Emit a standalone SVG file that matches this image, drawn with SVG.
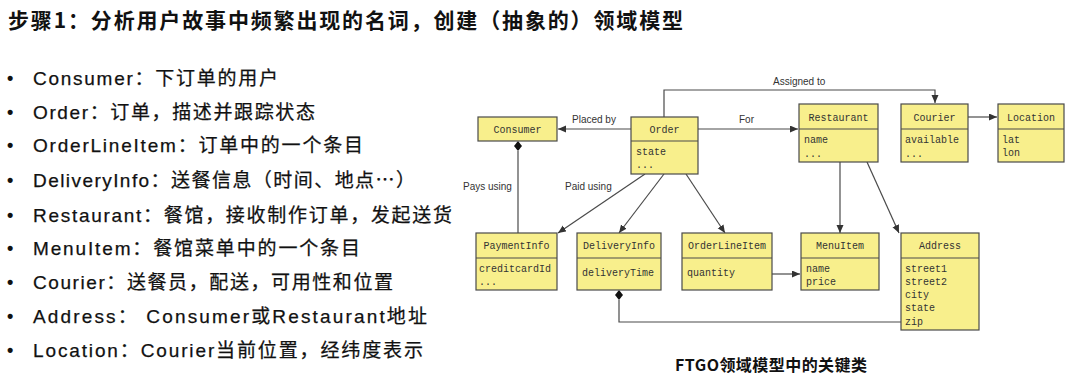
<svg xmlns="http://www.w3.org/2000/svg" width="1070" height="380" viewBox="0 0 1070 380">
<style>
.box{fill:#f8ef8c;stroke:#4a4a4a;stroke-width:1.2}
.div{stroke:#4a4a4a;stroke-width:1.2}
.mono{font-family:"Liberation Mono","DejaVu Sans Mono",monospace;font-size:10px;fill:#333}
.hd{text-anchor:middle}
.lbl{font-family:"Liberation Sans",Arial,sans-serif;font-size:10px;fill:#333}
.ln{fill:none;stroke:#4a4a4a;stroke-width:1.2}
.txt{font-family:"Liberation Sans","Noto Sans CJK SC",sans-serif;font-size:19px;fill:#111;stroke:#111;stroke-width:0.25}
.bul{font-family:"Liberation Sans",sans-serif;font-size:18px;font-weight:bold;fill:#111}
</style>
<defs>
<marker id="arr" markerWidth="9" markerHeight="8" refX="8" refY="3.5" orient="auto" markerUnits="userSpaceOnUse">
<path d="M0,0 L8,3.5 L0,7 z" fill="#333"/>
</marker>
</defs>
<rect width="1070" height="380" fill="#fff"/>

<text x="8" y="28" font-family="'Noto Sans CJK SC',sans-serif" font-weight="bold" font-size="21" fill="#111" textLength="675" lengthAdjust="spacing">步骤1：分析用户故事中频繁出现的名词，创建（抽象的）领域模型</text>

<g id="bullets">
<text class="bul" x="7" y="84">•</text>
<text class="txt" x="33" y="85" textLength="245" lengthAdjust="spacing">Consumer：下订单的用户</text>
<text class="bul" x="7" y="118">•</text>
<text class="txt" x="33" y="119" textLength="282" lengthAdjust="spacing">Order：订单，描述并跟踪状态</text>
<text class="bul" x="7" y="151">•</text>
<text class="txt" x="33" y="152" textLength="330" lengthAdjust="spacing">OrderLineItem：订单中的一个条目</text>
<text class="bul" x="7" y="186">•</text>
<text class="txt" x="33" y="187" textLength="382" lengthAdjust="spacing">DeliveryInfo：送餐信息（时间、地点<tspan font-family="'Noto Sans CJK SC',sans-serif">…</tspan>）</text>
<text class="bul" x="7" y="221">•</text>
<text class="txt" x="33" y="222" textLength="419" lengthAdjust="spacing">Restaurant：餐馆，接收制作订单，发起送货</text>
<text class="bul" x="7" y="254">•</text>
<text class="txt" x="33" y="255" textLength="327" lengthAdjust="spacing">MenuItem：餐馆菜单中的一个条目</text>
<text class="bul" x="7" y="288">•</text>
<text class="txt" x="33" y="289" textLength="360" lengthAdjust="spacing">Courier：送餐员，配送，可用性和位置</text>
<text class="bul" x="7" y="322">•</text>
<text class="txt" x="33" y="323" textLength="394" lengthAdjust="spacing">Address： Consumer或Restaurant地址</text>
<text class="bul" x="7" y="356">•</text>
<text class="txt" x="33" y="357" textLength="390" lengthAdjust="spacing">Location：Courier当前位置，经纬度表示</text>
</g>

<g id="connectors">
<line class="ln" x1="631" y1="129" x2="558" y2="129" marker-end="url(#arr)"/>
<line class="ln" x1="698" y1="129" x2="798" y2="129" marker-end="url(#arr)"/>
<polyline class="ln" points="664,117 664,90 935,90 935,103" marker-end="url(#arr)"/>
<line class="ln" x1="968" y1="117" x2="997" y2="117" marker-end="url(#arr)"/>
<line class="ln" x1="518" y1="151" x2="518" y2="233"/>
<polygon points="518,141 522,146 518,151 514,146" fill="#111"/>
<line class="ln" x1="645" y1="174" x2="558" y2="233" marker-end="url(#arr)"/>
<line class="ln" x1="664" y1="174" x2="619" y2="233" marker-end="url(#arr)"/>
<line class="ln" x1="686" y1="174" x2="725" y2="233" marker-end="url(#arr)"/>
<line class="ln" x1="840" y1="162" x2="840" y2="233" marker-end="url(#arr)"/>
<line class="ln" x1="867" y1="162" x2="899" y2="233" marker-end="url(#arr)"/>
<line class="ln" x1="772" y1="274" x2="800" y2="274" marker-end="url(#arr)"/>
<polyline class="ln" points="619,300 619,322 901,322"/>
<polygon points="619,290 623,295 619,300 615,295" fill="#111"/>
<text class="lbl" x="572" y="123">Placed by</text>
<text class="lbl" x="739" y="123">For</text>
<text class="lbl" x="773" y="85">Assigned to</text>
<text class="lbl" x="463" y="190">Pays using</text>
<text class="lbl" x="565" y="190">Paid using</text>
</g>

<g id="consumer">
<rect class="box" x="478" y="117" width="79" height="24"/>
<text class="mono hd" x="517.5" y="133">Consumer</text>
</g>
<g id="order">
<rect class="box" x="631" y="117" width="67" height="57"/>
<line class="div" x1="631" y1="141" x2="698" y2="141"/>
<text class="mono hd" x="664.5" y="133">Order</text>
<text class="mono" x="636" y="155">state</text>
<text class="mono" x="636" y="168">...</text>
</g>
<g id="restaurant">
<rect class="box" x="799" y="104" width="79" height="58"/>
<line class="div" x1="799" y1="129" x2="878" y2="129"/>
<text class="mono hd" x="838.5" y="121">Restaurant</text>
<text class="mono" x="804" y="143">name</text>
<text class="mono" x="804" y="157">...</text>
</g>
<g id="courier">
<rect class="box" x="901" y="104" width="67" height="58"/>
<line class="div" x1="901" y1="129" x2="968" y2="129"/>
<text class="mono hd" x="934.5" y="121">Courier</text>
<text class="mono" x="905" y="143">available</text>
<text class="mono" x="905" y="157">...</text>
</g>
<g id="location">
<rect class="box" x="998" y="104" width="66" height="58"/>
<line class="div" x1="998" y1="129" x2="1064" y2="129"/>
<text class="mono hd" x="1031" y="121">Location</text>
<text class="mono" x="1002" y="143">lat</text>
<text class="mono" x="1002" y="156">lon</text>
</g>
<g id="paymentinfo">
<rect class="box" x="476" y="233" width="81" height="57"/>
<line class="div" x1="476" y1="258" x2="557" y2="258"/>
<text class="mono hd" x="516.5" y="249">PaymentInfo</text>
<text class="mono" x="479" y="272">creditcardId</text>
<text class="mono" x="479" y="285">...</text>
</g>
<g id="deliveryinfo">
<rect class="box" x="577" y="233" width="84" height="57"/>
<line class="div" x1="577" y1="258" x2="661" y2="258"/>
<text class="mono hd" x="619" y="249">DeliveryInfo</text>
<text class="mono" x="582" y="276">deliveryTime</text>
</g>
<g id="orderlineitem">
<rect class="box" x="682" y="233" width="90" height="57"/>
<line class="div" x1="682" y1="258" x2="772" y2="258"/>
<text class="mono hd" x="727" y="249">OrderLineItem</text>
<text class="mono" x="687" y="276">quantity</text>
</g>
<g id="menuitem">
<rect class="box" x="801" y="233" width="78" height="57"/>
<line class="div" x1="801" y1="258" x2="879" y2="258"/>
<text class="mono hd" x="840" y="249">MenuItem</text>
<text class="mono" x="806" y="272">name</text>
<text class="mono" x="806" y="285">price</text>
</g>
<g id="address">
<rect class="box" x="901" y="233" width="78" height="97"/>
<line class="div" x1="901" y1="258" x2="979" y2="258"/>
<text class="mono hd" x="940" y="249">Address</text>
<text class="mono" x="905" y="272">street1</text>
<text class="mono" x="905" y="285">street2</text>
<text class="mono" x="905" y="298">city</text>
<text class="mono" x="905" y="311">state</text>
<text class="mono" x="905" y="325">zip</text>
</g>

<text x="675" y="371" font-family="'Noto Sans CJK SC',sans-serif" font-weight="bold" font-size="16" fill="#111" textLength="192" lengthAdjust="spacing">FTGO领域模型中的关键类</text>
</svg>
